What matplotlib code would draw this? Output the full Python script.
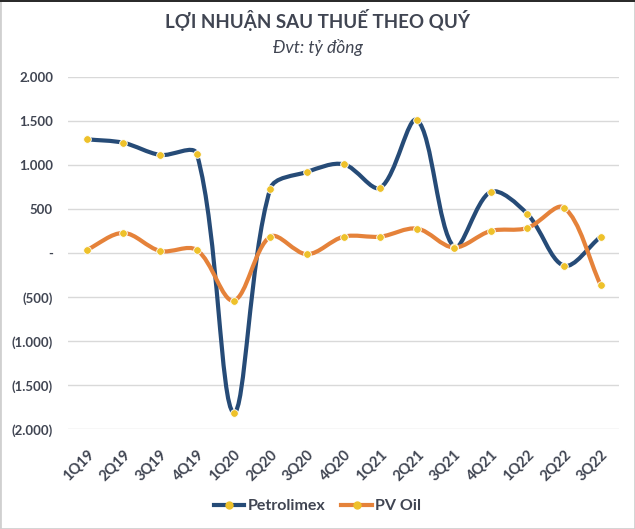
import numpy as np
import matplotlib.pyplot as plt
from matplotlib.path import Path
from matplotlib.patches import PathPatch, Rectangle
from matplotlib.lines import Line2D

quarters = ["1Q19", "2Q19", "3Q19", "4Q19", "1Q20", "2Q20", "3Q20", "4Q20",
            "1Q21", "2Q21", "3Q21", "4Q21", "1Q22", "2Q22", "3Q22"]
petrolimex = [1295, 1255, 1117, 1128, -1810, 734, 924, 1011,
              746, 1514, 72, 697, 447, -141, 189]
pv_oil = [37, 231, 26, 37, -538, 189, -11, 189,
          189, 280, 65, 253, 287, 518, -364]
yticks = [2000, 1500, 1000, 500, 0, -500, -1000, -1500, -2000]

navy = "#264b77"
orange = "#e5823a"
marker_col = "#eec12a"
text_col = "#404552"
font = "Lato"


def fmt(v):
    if v == 0:
        return "-"
    s = f"{abs(v):,}".replace(",", ".")
    return s if v > 0 else f"({s})"


def smooth_path(xs, ys, sx=36.7, sy=0.088):
    # Excel-like smoothed line: bezier with tangents weighted by segment length
    # (lengths measured in pixel units via sx, sy)
    pts = np.column_stack([xs, ys]).astype(float)
    scale = np.array([sx, sy])
    n = len(pts)
    verts = [pts[0]]
    codes = [Path.MOVETO]

    def d(a, b):
        return np.hypot(*((b - a) * scale))

    for i in range(n - 1):
        p0 = pts[max(i - 1, 0)]
        p1 = pts[i]
        p2 = pts[i + 1]
        p3 = pts[min(i + 2, n - 1)]
        d01, d12, d23 = d(p0, p1), d(p1, p2), d(p2, p3)
        f1 = d12 / (d01 + d12) if d01 + d12 > 0 else 0
        f2 = d12 / (d12 + d23) if d12 + d23 > 0 else 0
        c1 = p1 + (p2 - p0) * f1 / 3
        c2 = p2 - (p3 - p1) * f2 / 3
        verts += [c1, c2, p2]
        codes += [Path.CURVE4] * 3
    return Path(verts, codes)


fig = plt.figure(figsize=(6.35, 5.29), dpi=100)
ax = fig.add_axes([0.1076, 0.1885, 0.8674, 0.6655])

x = np.arange(len(quarters))
for vals, col in [(petrolimex, navy), (pv_oil, orange)]:
    ax.add_patch(PathPatch(smooth_path(x, vals), facecolor="none", edgecolor=col,
                           lw=3.0, capstyle="round", joinstyle="round", zorder=3))
    ax.plot(x, vals, ls="none", marker="o", ms=5.5, mfc=marker_col,
            mec="white", mew=0.6, zorder=4)

ax.set_xlim(-0.5, len(quarters) - 0.5)
ax.set_ylim(-2000, 2000)
ax.set_yticks(yticks)
ax.set_yticklabels([fmt(v) for v in yticks])
ax.yaxis.grid(True, color="#d9d9d9", lw=1)
ax.set_axisbelow(True)
for s in ax.spines.values():
    s.set_visible(False)
ax.tick_params(axis="y", length=0, pad=11)
ax.tick_params(axis="x", length=0, pad=13)
ax.set_xticks(x)
ax.set_xticklabels(quarters, rotation=45, ha="right", va="top", rotation_mode="anchor")
for lab in ax.get_yticklabels():
    lab.set_fontfamily(font)
    lab.set_fontweight("bold")
    lab.set_fontsize(9.5)
    lab.set_color(text_col)
for lab in ax.get_xticklabels():
    lab.set_fontfamily(font)
    lab.set_fontweight("bold")
    lab.set_fontsize(10.5)
    lab.set_color(text_col)

fig.text(0.5, 1 - 20 / 529, "LỢI NHUẬN SAU THUẾ THEO QUÝ", ha="center", va="center",
         fontsize=13.5, fontweight="bold", color=text_col, family=font)
fig.text(0.5, 1 - 47 / 529, "Đvt: tỷ đồng", ha="center", va="center",
         fontsize=12.5, style="italic", color=text_col, family=font)

handles = [Line2D([], [], color=c, lw=3, marker="o", ms=5, mfc=marker_col, mec=marker_col)
           for c in (navy, orange)]
leg = fig.legend(handles, ["Petrolimex", "PV Oil"], loc="center",
                 bbox_to_anchor=(0.5, 1 - 506 / 529), ncol=2, frameon=False,
                 handlelength=1.9, columnspacing=1.0, handletextpad=0.2,
                 prop={"family": font, "weight": "bold", "size": 11.5})
for t in leg.get_texts():
    t.set_color(text_col)

fig.patches.append(Rectangle((0, 0), 1, 1, transform=fig.transFigure, fill=False,
                             edgecolor="#d0d0d0", lw=2))
fig.patches.append(Rectangle((0, 1 - 2 / 529), 1, 2 / 529, transform=fig.transFigure,
                             color="#2b2b2b", lw=0))

fig.savefig("out.png", dpi=100)
